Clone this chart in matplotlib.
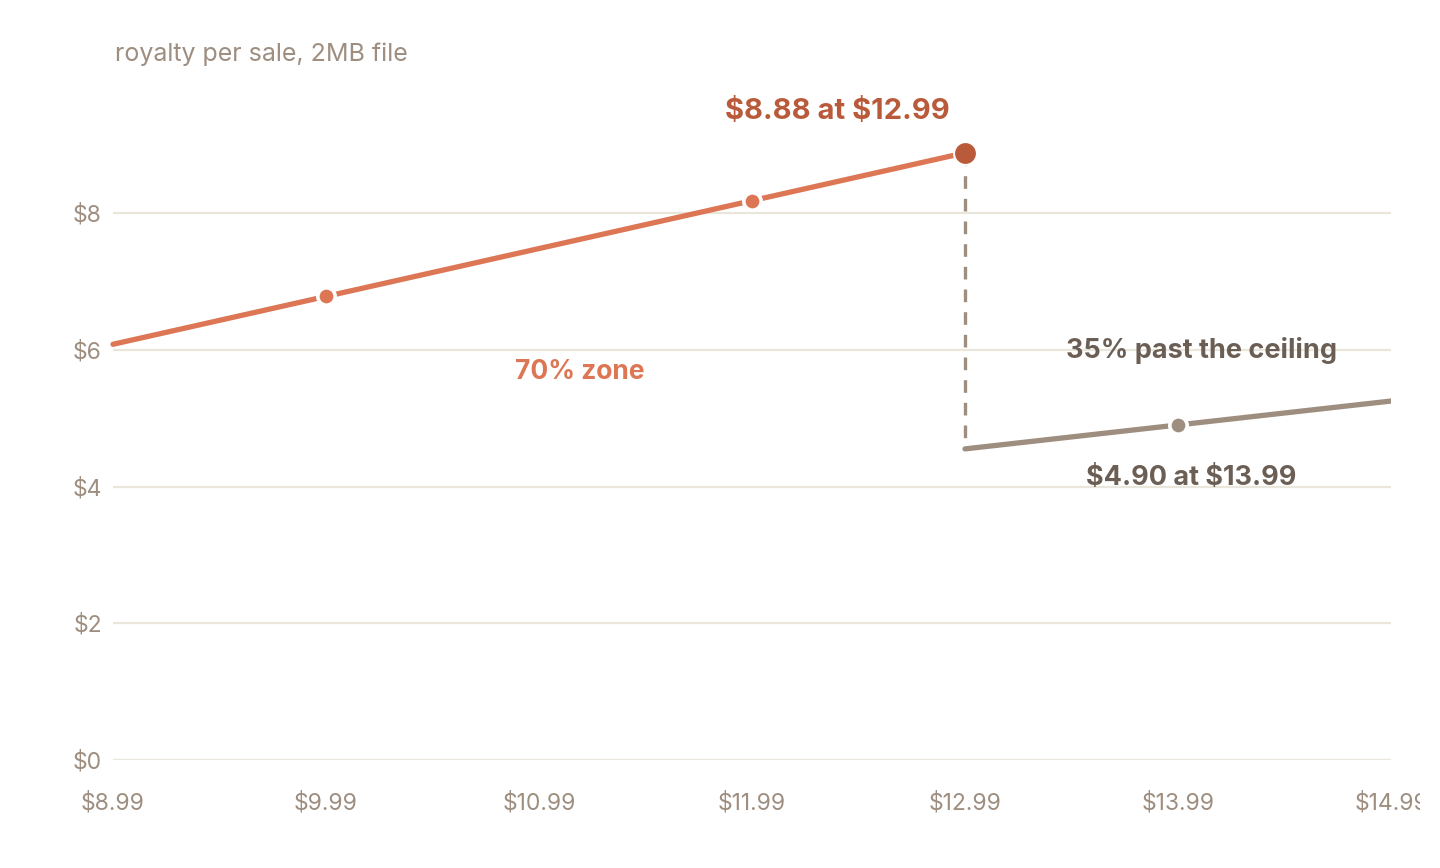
import matplotlib
matplotlib.use("Agg")
import matplotlib.pyplot as plt
from matplotlib.patches import Rectangle

plt.rcParams['font.family'] = ['Inter', 'DejaVu Sans']
plt.rcParams['text.parse_math'] = False

# data
prices_70 = [8.99, 9.99, 10.99, 11.99, 12.99]
royalty_70 = [6.08, 6.78, 7.48, 8.18, 8.88]
marker_prices_70 = [9.99, 11.99]
marker_royalty_70 = [6.78, 8.18]
peak_price = 12.99
peak_royalty = 8.88
prices_35 = [12.99, 13.99, 14.99]
royalty_35 = [4.55, 4.90, 5.25]
marker_prices_35 = [13.99]
marker_royalty_35 = [4.90]
x_ticks = [8.99, 9.99, 10.99, 11.99, 12.99, 13.99, 14.99]
x_tick_labels = ["$8.99", "$9.99", "$10.99", "$11.99", "$12.99", "$13.99", "$14.99"]
y_ticks = [0, 2, 4, 6, 8]
y_tick_labels = ["$0", "$2", "$4", "$6", "$8"]

ORANGE = "#DC7654"
DARK_ORANGE = "#B95B3B"
GRAY = "#9E8E80"
DARK_GRAY = "#6B5E54"
GRID = "#EAE6DC"

W, H = 1440, 868
fig = plt.figure(figsize=(W / 100, H / 100), dpi=100)
ymax = 9.5
px_per_unit = (760 - 213) / 8.0
top_px = 760 - ymax * px_per_unit
ax = fig.add_axes([113 / W, 1 - 760 / H, (1391 - 113) / W, (760 - top_px) / H])
ax.set_xlim(8.99, 14.99)
ax.set_ylim(0, ymax)

for s in ax.spines.values():
    s.set_visible(False)
ax.set_yticks(y_ticks)
ax.set_yticklabels(y_tick_labels)
ax.set_xticks(x_ticks)
ax.set_xticklabels(x_tick_labels)
ax.tick_params(axis='both', length=0, colors=GRAY, labelsize=16.5)
ax.tick_params(axis='y', pad=8)
ax.tick_params(axis='x', pad=23)
ax.grid(axis='y', color=GRID, linewidth=1.6)
ax.set_axisbelow(True)

# dashed drop
ax.plot([peak_price, peak_price], [peak_royalty, royalty_35[0]], color=GRAY,
        linewidth=2.4, dashes=(3.8, 3), zorder=2, solid_capstyle='butt')
# 35% line
ax.plot(prices_35, royalty_35, color=GRAY, linewidth=3.8, zorder=3,
        solid_capstyle='round', solid_joinstyle='round')
ax.plot(marker_prices_35, marker_royalty_35, 'o', color=GRAY, markersize=12.5,
        markeredgecolor='white', markeredgewidth=2.6, zorder=4)
# 70% line
ax.plot(prices_70, royalty_70, color=ORANGE, linewidth=3.8, zorder=3,
        solid_capstyle='round', clip_on=False)
ax.plot(marker_prices_70, marker_royalty_70, 'o', color=ORANGE, markersize=12.5,
        markeredgecolor='white', markeredgewidth=2.6, zorder=4)
ax.plot([peak_price], [peak_royalty], 'o', color=DARK_ORANGE, markersize=16.5,
        markeredgecolor='white', markeredgewidth=1.5, zorder=5, clip_on=False)

# annotations
ax.text(12.39, 9.49, "$8.88 at $12.99", color=DARK_ORANGE, fontsize=21,
        fontweight='bold', ha='center', va='center', clip_on=False)
ax.text(11.18, 5.675, "70% zone", color=ORANGE, fontsize=19,
        fontweight='bold', ha='center', va='center')
ax.text(14.10, 5.985, "35% past the ceiling", color=DARK_GRAY, fontsize=19.5,
        fontweight='bold', ha='center', va='center')
ax.text(14.05, 4.125, "$4.90 at $13.99", color=DARK_GRAY, fontsize=19.5,
        fontweight='bold', ha='center', va='center')

fig.text(115 / W, 1 - 54 / H, "royalty per sale, 2MB file", color=GRAY,
         fontsize=18, ha='left', va='center')

# the reference crops the last tick label at the right edge
fig.add_artist(Rectangle((1420 / W, 0), (W - 1420) / W, 1, transform=fig.transFigure,
                         facecolor='white', edgecolor='none', zorder=10))

fig.savefig("out.png", dpi=100, facecolor='white')
